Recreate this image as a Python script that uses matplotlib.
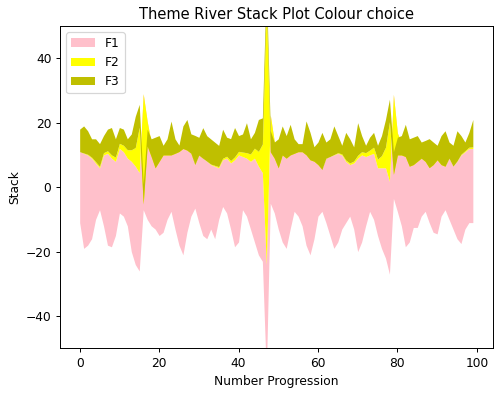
import numpy as np
import matplotlib
matplotlib.use('Agg')
import matplotlib.pyplot as plt

# values (x = 0..99)
x = np.arange(100)

# lower edge of the stream
baseline = [-11, -19, -18, -16, -10, -7, -12, -18, -18.5, -15,
            -8, -9, -12, -20, -24, -26, -7, -10, -12, -13,
            -15, -14, -10, -7.5, -13, -18, -21, -14, -9, -6.5,
            -11, -15, -16, -13, -16, -10, -6, -8, -13, -18.5,
            -17, -7, -9, -13, -17, -21, -23, -58, -5, -8,
            -13, -17, -19, -13, -7.5, -9, -12, -18, -21, -16,
            -9, -7.5, -11, -15, -19, -17, -13, -11, -9, -13,
            -20, -17, -12, -7.5, -10, -15, -19, -22, -27, -3.5,
            -7.6, -12, -18.5, -17, -12.5, -12.5, -9, -7.5, -11, -14,
            -14.5, -9, -7, -10, -13, -16, -17.5, -13, -11, -11]

f1 = [22, 29.5, 28, 25, 17.5, 13, 22, 28.5, 27.5, 23,
      20, 20, 21, 28, 30.5, 30.5, 36, 30.5, 25.8, 21.9,
      25.2, 25.7, 21.4, 18.6, 24.4, 29.8, 33.6, 26, 19.9, 13.8,
      21.1, 24, 24, 20, 22.5, 16, 14.5, 17, 20.5, 27,
      27, 16.5, 18, 21, 26, 27.5, 27.5, 34, 27.4, 22.2,
      22.4, 29.5, 30, 24.6, 19.3, 21.1, 23.9, 28.8, 30.1, 24.5,
      16.3, 13.2, 20.1, 24.5, 29, 27.5, 23, 19, 16, 20.5,
      29, 27, 21.5, 17.5, 20.5, 21, 25, 28, 28.8, 32.3,
      24.4, 25.8, 30.6, 25.5, 21, 21.7, 19, 16.3, 17.7, 21.5,
      23.4, 16.3, 13.7, 19.1, 19.5, 24, 27.5, 24, 23, 23]

f2 = [0, 0.1, 0.2, 0.3, 0.4, 0.5, 0.7, 0.8, 1.0, 1.3,
      1.6, 2.0, 2.6, 3.6, 5.8, 14.1, -34.2, -7.7, -4.3, -2.9,
      -2.2, -1.7, -1.4, -1.1, -0.9, -0.75, -0.6, -0.5, -0.36, -0.25,
      -0.14, -0.04, 0.06, 0.16, 0.26, 0.36, 0.47, 0.6, 0.75, 0.9,
      1.1, 1.4, 1.7, 2.3, 3.1, 4.6, 8.9, 80.7, -11.4, -5.2,
      -3.4, -2.5, -2.0, -1.6, -1.3, -1.1, -0.9, -0.75, -0.6, -0.45,
      -0.3, -0.2, -0.1, 0.0, 0.1, 0.2, 0.3, 0.4, 0.5, 0.6,
      0.9, 1.0, 1.2, 1.5, 1.9, 2.7, 3.8, 6.4, 18.5, -24.8,
      -6.8, -3.8, -2.6, -2.0, -1.5, -1.2, -1.0, -0.8, -0.65, -0.5,
      -0.4, -0.3, -0.2, -0.1, 0.0, 0.1, 0.2, 0.3, 0.4, 0.5]

f3 = [7, 8.4, 7.3, 5.7, 7.1, 7, 5.3, 6.7, 8.5, 5.7,
      4.9, 5, 3.4, 4.9, 9.7, 7.1, 6.2, 5.2, 5.5, 9.5,
      8, 3, 5, 10.5, 4.5, 2, 7, 9.5, 6, 9,
      5.5, 9.5, 7.9, 7.8, 7.2, 6.6, 9, 5.9, 6.8, 9.1,
      4.9, 5.6, 9.3, 4.7, 4.9, 9.9, 8.1, 7, 6.5, 5,
      9, 9, 7, 9.5, 4.5, 2.5, 2.5, 10.5, 8.5, 4.5,
      7, 11.5, 5, 5.5, 8.9, 5.3, 2.7, 8.6, 7.5, 4.4,
      10.1, 5, 2.3, 4, 4.6, 4.3, 6.2, 8.6, 7, 7,
      5.5, 6, 10, 8.5, 8.5, 8, 5, 6.5, 9, 7,
      4.5, 9, 11, 5, 6.5, 9.4, 5.8, 2.7, 4.6, 8.5]

labels = ['F1', 'F2', 'F3']
colours = ['pink', 'yellow', 'y']

dpi = 88
fig, ax = plt.subplots(figsize=(500 / dpi, 394 / dpi), dpi=dpi)
fig.subplots_adjust(left=0.12, right=0.985, bottom=0.116, top=0.934)

# stack the layers on top of the baseline
lower = np.array(baseline, dtype=float)
for vals, col, lab in zip((f1, f2, f3), colours, labels):
    upper = lower + np.array(vals)
    ax.fill_between(x, lower, upper, color=col, label=lab, linewidth=0)
    lower = upper

ax.set_ylim(-50, 50)
ax.set_title('Theme River Stack Plot Colour choice')
ax.set_xlabel('Number Progression')
ax.set_ylabel('Stack')
ax.legend(loc='upper left')

fig.savefig('out.png', dpi=dpi)
